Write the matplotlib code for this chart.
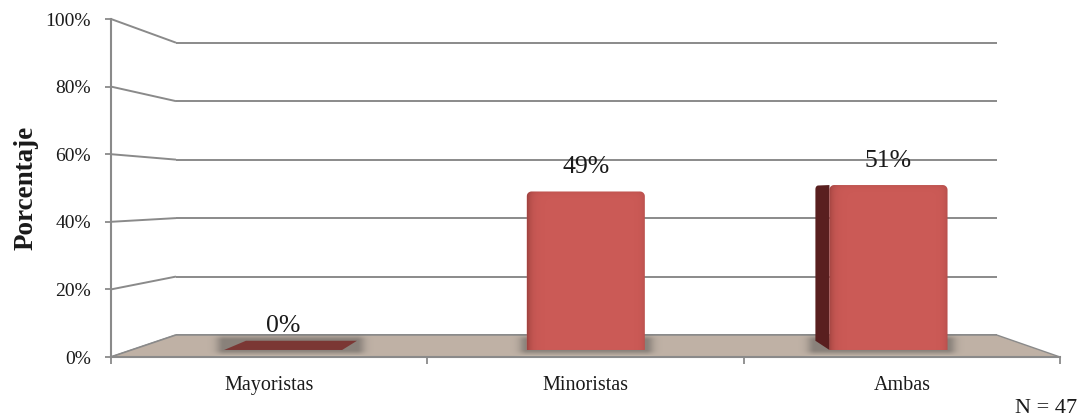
import numpy as np
import matplotlib.pyplot as plt
from matplotlib.patches import Polygon

# ---- data -------------------------------------------------------------
categories = ["Mayoristas", "Minoristas", "Ambas"]
percentages = [0, 49, 51]
value_labels = ["0%", "49%", "51%"]
y_ticks = [0, 20, 40, 60, 80, 100]
y_tick_labels = ["0%", "20%", "40%", "60%", "80%", "100%"]
y_title = "Porcentaje"
sample_note = "N = 47"

plt.rcParams['font.family'] = ['Liberation Serif', 'DejaVu Serif']

GRID = '#8a8a8a'
FLOOR = '#bfb1a5'
FACE = '#cb5a56'
SIDE = '#591f1f'
TOP0 = '#7a2f2d'

fig = plt.figure(figsize=(10.8, 4.18), dpi=100)
fig.patch.set_facecolor('white')
ax = fig.add_axes([111 / 1080, 61 / 418, 949 / 1080, 338 / 418])
n = len(categories)
X0, X1 = -0.5, n - 0.5
ax.set_xlim(X0, X1)
ax.set_ylim(0, 100)
ax.patch.set_visible(False)

# pixel size of one data unit (used for pixel-sized styling only)
o = ax.transData.transform((0, 0))
SX = ax.transData.transform((1, 0))[0] - o[0]
SY = ax.transData.transform((0, 1))[1] - o[1]

# simple one-point perspective: depth d in [0, 1] shrinks toward (VX, VY)
VX, VY = (n - 1) / 2 + 0.022, 48.1
SHRINK = 0.135
D0, D1 = 0.32, 0.74          # front / back depth of the bars
BAR_W = 0.39


def proj(x, y, d):
    s = 1 - SHRINK * np.asarray(d, dtype=float)
    return VX + (np.asarray(x, dtype=float) - VX) * s, VY + (np.asarray(y, dtype=float) - VY) * s


# ---- walls: back gridlines and side-wall lines --------------------------
for t in y_ticks:
    bx, by = proj([X0, X1], [t, t], 1)
    ax.plot(bx, by, color=GRID, lw=1.4, zorder=1, solid_capstyle='butt', clip_on=False)
    lx, ly = proj([X0, X0], [t, t], [0, 1])
    ax.plot(lx, ly, color=GRID, lw=1.4, zorder=1, solid_capstyle='butt', clip_on=False)

# ---- floor -------------------------------------------------------------
fx, fy = proj([X0, X1, X1, X0], [0, 0, 0, 0], [0, 0, 1, 1])
ax.add_patch(Polygon(np.column_stack([fx, fy]), closed=True, fc=FLOOR, ec=GRID,
                     lw=1.0, zorder=2, clip_on=False))


# ---- helpers -------------------------------------------------------------
def base_shadow(i):
    xl, xr = i - BAR_W / 2, i + BAR_W / 2
    cx, cy = proj([xl, xr, xl, xr], [0, 0, 0, 0], [D0, D0, D1, D1])
    left, right = cx.min(), cx.max()
    front, back = cy.min(), cy.max()
    ext = [left - 24 / SX, right + 24 / SX, front - 5 / SY, back + 6 / SY]
    gx = np.linspace(ext[0], ext[1], 300)
    gy = np.linspace(ext[2], ext[3], 80)
    GX, GY = np.meshgrid(gx, gy)
    dx = np.maximum(0, np.maximum(left - GX, GX - right)) * SX
    dy = np.maximum(0, np.maximum(front - GY, GY - back)) * SY
    dist = np.hypot(dx, dy * 2.0)
    rgba = np.zeros(GX.shape + (4,))
    rgba[..., :3] = 0.25
    rgba[..., 3] = 0.42 * np.exp(-(dist / 8.0) ** 2)
    ax.imshow(rgba, extent=ext, origin='lower', aspect='auto', zorder=3,
              interpolation='bilinear')


def front_outline(xl, xr, top, r_px=5.0):
    rx = r_px / SX
    ry = min(r_px / SY, top / 2) if top > 0 else 0
    pts = [(xl, 0), (xl, top - ry)]
    for a in np.linspace(np.pi, np.pi / 2, 8):
        pts.append((xl + rx + rx * np.cos(a), top - ry + ry * np.sin(a)))
    for a in np.linspace(np.pi / 2, 0, 8):
        pts.append((xr - rx + rx * np.cos(a), top - ry + ry * np.sin(a)))
    pts.append((xr, 0))
    pts = np.array(pts)
    px, py = proj(pts[:, 0], pts[:, 1], D0)
    return np.column_stack([px, py])


def side_outline(x, top, r_px=4.0, rd=0.08):
    ry = r_px / SY
    pts_d = [D0, D0]
    pts_y = [0, top]
    # rounded back-top corner of the side face
    for a in np.linspace(np.pi / 2, 0, 7):
        pts_d.append(D1 - rd + rd * np.cos(a))
        pts_y.append(top - ry + ry * np.sin(a))
    pts_d.append(D1)
    pts_y.append(0)
    px, py = proj([x] * len(pts_d), pts_y, pts_d)
    return np.column_stack([px, py])


def face_shading(poly):
    # darker rim on the left/right edges and a faint line along the top
    xs, ys = poly[:, 0], poly[:, 1]
    ext = [xs.min(), xs.max(), ys.min(), ys.max()]
    w_px = (ext[1] - ext[0]) * SX
    h_px = (ext[3] - ext[2]) * SY
    gx = np.linspace(0, w_px, 240)
    gy = np.linspace(0, h_px, 200)
    GX, GY = np.meshgrid(gx, gy)
    dark = 0.35 * np.exp(-GX / 4.0) + 0.18 * np.exp(-(w_px - GX) / 3.0)
    dark += 0.10 * np.exp(-(h_px - GY) / 2.0)
    rgba = np.zeros(GX.shape + (4,))
    rgba[..., 0] = 0.30
    rgba[..., 1] = 0.08
    rgba[..., 2] = 0.08
    rgba[..., 3] = np.clip(dark, 0, 1)
    return ax.imshow(rgba, extent=ext, origin='lower', aspect='auto', zorder=5.5,
                     interpolation='bilinear')


# ---- bars --------------------------------------------------------------
for i, v in enumerate(percentages):
    base_shadow(i)
    xl, xr = i - BAR_W / 2, i + BAR_W / 2

    # visible side face
    for edge, visible in ((xl, xl > VX), (xr, xr < VX)):
        if visible and v > 0:
            ax.add_patch(Polygon(side_outline(edge, v), closed=True, fc=SIDE,
                                 ec='none', zorder=4))

    # top face (seen from above when the bar is lower than the eye level)
    if v < VY:
        tx, ty = proj([xl, xr, xr, xl], [v, v, v, v], [D0, D0, D1, D1])
        ax.add_patch(Polygon(np.column_stack([tx, ty]), closed=True,
                             fc=TOP0 if v == 0 else '#d46a66', ec='none',
                             alpha=0.9, zorder=4.5))

    if v > 0:
        poly = front_outline(xl, xr, v)
        face = Polygon(poly, closed=True, fc=FACE, ec='none', zorder=5)
        ax.add_patch(face)
        face_shading(poly).set_clip_path(face)

    lx, ly = proj(i, v, D0)
    ax.annotate(value_labels[i], xy=(float(lx), float(ly)), xytext=(0, 17.5),
                textcoords='offset points', ha='center', va='center',
                fontsize=18.5, color='#1a1a1a', zorder=7)

# ---- axes styling ---------------------------------------------------------
for side in ('top', 'right'):
    ax.spines[side].set_visible(False)
for side in ('left', 'bottom'):
    ax.spines[side].set_color(GRID)
    ax.spines[side].set_linewidth(1.5)
    ax.spines[side].set_zorder(6)

ax.set_yticks(y_ticks)
ax.set_yticklabels(y_tick_labels)
ax.tick_params(axis='y', direction='out', length=4.5, width=1.3, color=GRID,
               labelsize=14, pad=10, labelcolor='#1a1a1a')

ax.set_xticks(range(n))
ax.set_xticklabels(categories)
ax.set_xticks(np.arange(X0, X1 + 0.01, 1.0), minor=True)
ax.tick_params(axis='x', which='major', length=0, labelsize=14.5, pad=14,
               labelcolor='#1a1a1a')
ax.tick_params(axis='x', which='minor', direction='out', length=5, width=1.3,
               color=GRID)

ax.set_ylabel(y_title, fontsize=19.5, fontweight='bold', labelpad=5, color='#1a1a1a')

fig.text(1077 / 1080, 5 / 418, sample_note, ha='right', va='baseline',
         fontsize=16, color='#1a1a1a')

ax.set_xlim(X0, X1)
ax.set_ylim(0, 100)

fig.savefig('out.png', dpi=100, facecolor='white')
